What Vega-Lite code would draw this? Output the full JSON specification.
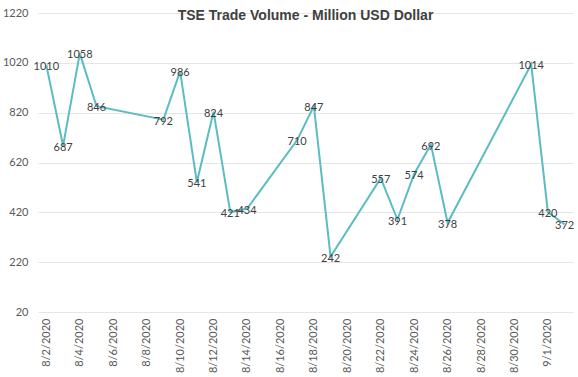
{
  "$schema": "https://vega.github.io/schema/vega-lite/v6.json",
  "width": 535,
  "height": 299,
  "autosize": "none",
  "padding": {"left": 38, "top": 13, "right": 5, "bottom": 65},
  "background": "white",
  "title": {"text": "TSE Trade Volume - Million USD Dollar", "font": "Liberation Sans", "fontSize": 14, "fontWeight": "bold", "color": "#404040", "anchor": "middle", "frame": "group", "baseline": "middle", "offset": -5, "dy": 18},
  "config": {"view": {"stroke": null}},
  "data": {"values": [
    {"date": "2020-08-02", "value": 1010},
    {"date": "2020-08-03", "value": 687},
    {"date": "2020-08-04", "value": 1058},
    {"date": "2020-08-05", "value": 846},
    {"date": "2020-08-09", "value": 792},
    {"date": "2020-08-10", "value": 986},
    {"date": "2020-08-11", "value": 541},
    {"date": "2020-08-12", "value": 824},
    {"date": "2020-08-13", "value": 421},
    {"date": "2020-08-14", "value": 434},
    {"date": "2020-08-17", "value": 710},
    {"date": "2020-08-18", "value": 847},
    {"date": "2020-08-19", "value": 242},
    {"date": "2020-08-22", "value": 557},
    {"date": "2020-08-23", "value": 391},
    {"date": "2020-08-24", "value": 574},
    {"date": "2020-08-25", "value": 692},
    {"date": "2020-08-26", "value": 378},
    {"date": "2020-08-31", "value": 1014},
    {"date": "2020-09-01", "value": 420},
    {"date": "2020-09-02", "value": 372}
  ]},
  "encoding": {
    "x": {"field": "date", "type": "temporal",
      "scale": {"type": "utc", "domain": [{"year": 2020, "month": 8, "date": 1, "hours": 12, "utc": true}, {"year": 2020, "month": 9, "date": 2, "hours": 12, "utc": true}]},
      "axis": {"title": null, "labelExpr": "utcFormat(datum.value, '%-m/%-d/%Y')", "labelAngle": 270, "labelAlign": "right", "labelBaseline": "middle", "labelPadding": 6, "ticks": false, "domain": false, "grid": false, "labelFont": "Lato", "labelFontSize": 11, "labelColor": "#595959", "labelOverlap": false, "labelFlush": false,
        "values": [
          {"year": 2020, "month": 8, "date": 2, "utc": true},
          {"year": 2020, "month": 8, "date": 4, "utc": true},
          {"year": 2020, "month": 8, "date": 6, "utc": true},
          {"year": 2020, "month": 8, "date": 8, "utc": true},
          {"year": 2020, "month": 8, "date": 10, "utc": true},
          {"year": 2020, "month": 8, "date": 12, "utc": true},
          {"year": 2020, "month": 8, "date": 14, "utc": true},
          {"year": 2020, "month": 8, "date": 16, "utc": true},
          {"year": 2020, "month": 8, "date": 18, "utc": true},
          {"year": 2020, "month": 8, "date": 20, "utc": true},
          {"year": 2020, "month": 8, "date": 22, "utc": true},
          {"year": 2020, "month": 8, "date": 24, "utc": true},
          {"year": 2020, "month": 8, "date": 26, "utc": true},
          {"year": 2020, "month": 8, "date": 28, "utc": true},
          {"year": 2020, "month": 8, "date": 30, "utc": true},
          {"year": 2020, "month": 9, "date": 1, "utc": true}
        ]}},
    "y": {"field": "value", "type": "quantitative",
      "scale": {"domain": [20, 1220], "nice": false, "zero": false},
      "axis": {"title": null, "format": "d", "values": [20, 220, 420, 620, 820, 1020, 1220], "ticks": false, "domain": false, "grid": true, "gridColor": "#e6e6e6", "gridWidth": 1, "labelFont": "Lato", "labelFontSize": 11, "labelColor": "#595959", "labelPadding": 10}}
  },
  "layer": [
    {"mark": {"type": "line", "color": "#5bbcc4", "strokeWidth": 2}},
    {"mark": {"type": "text", "font": "Lato", "fontSize": 11, "color": "#404040", "align": "center", "baseline": "middle", "dy": 2},
     "encoding": {"text": {"field": "value", "type": "quantitative"}}}
  ]
}
